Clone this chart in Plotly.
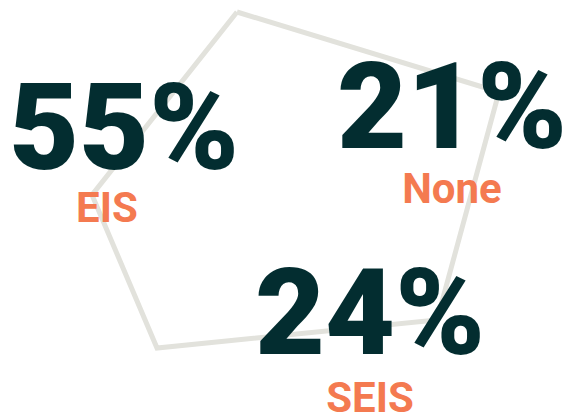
import plotly.graph_objects as go

# Data
categories = ["EIS", "None", "SEIS"]
shares = [55, 21, 24]

# Layout positions (screen pixels in the 572x412 window)
value_pos = [(124, 139), (452, 118), (370, 324)]
label_pos = [(107, 211), (452, 192), (370, 401)]

# Decorative pentagon outline (screen pixels)
pent_x = [237, 499, 437, 157, 92, 237]
pent_y = [12, 92, 320, 348, 195, 12]

DARK = "#032d30"
ORANGE = "#f47a50"
LINE = "#e2e2dc"

fig = go.Figure()
fig.add_trace(go.Scatter(x=pent_x, y=pent_y, mode="lines",
                         line=dict(color=LINE, width=5), hoverinfo="skip",
                         showlegend=False, cliponaxis=False))

fig.add_trace(go.Scatter(
    x=[p[0] for p in value_pos], y=[p[1] for p in value_pos],
    mode="text", text=[f"{v}%" for v in shares],
    textposition="middle center", cliponaxis=False,
    textfont=dict(family="Roboto", size=121, color=DARK, weight=900),
    showlegend=False, hoverinfo="skip"))

fig.add_trace(go.Scatter(
    x=[p[0] for p in label_pos], y=[p[1] for p in label_pos],
    mode="text", text=categories,
    textposition="middle center", cliponaxis=False,
    textfont=dict(family="Roboto", size=42, color=ORANGE, weight=700),
    showlegend=False, hoverinfo="skip"))

# the page body has an 8px margin, so the figure starts at (8, 8)
fig.update_layout(
    width=564, height=404,
    margin=dict(l=0, r=0, t=0, b=0),
    paper_bgcolor="white", plot_bgcolor="white",
    xaxis=dict(range=[8, 572], visible=False, fixedrange=True),
    yaxis=dict(range=[412, 8], visible=False, fixedrange=True),
)

fig.write_html("out.html")
